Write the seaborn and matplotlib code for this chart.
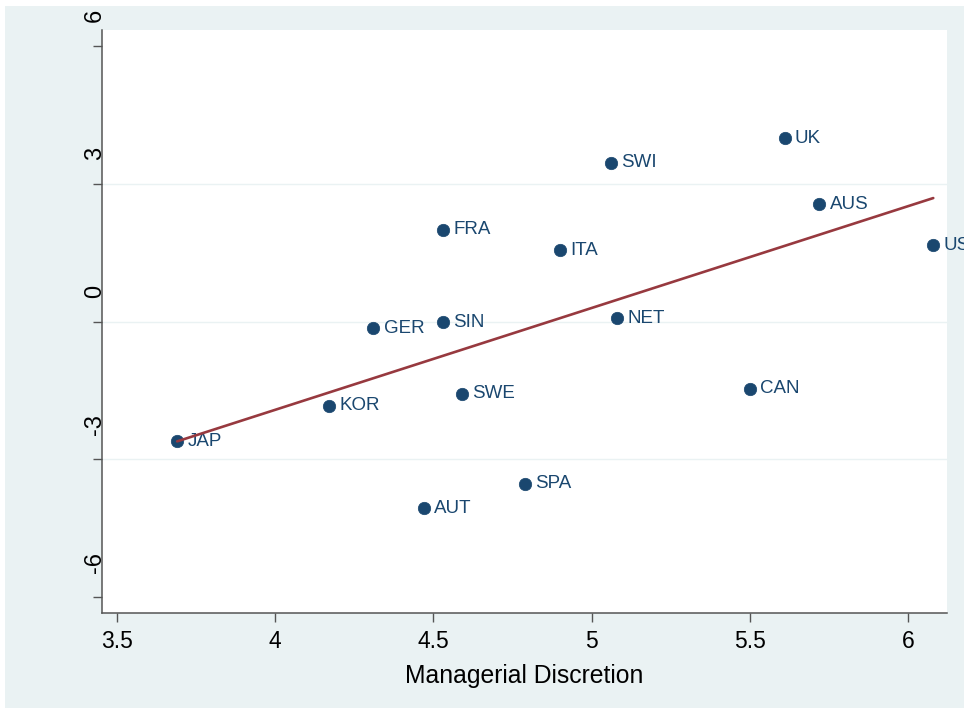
import pandas as pd
import seaborn as sns
import matplotlib.pyplot as plt
import matplotlib.transforms as mtransforms
from matplotlib.patches import Rectangle

PAISES = ['JAP', 'KOR', 'GER', 'SIN', 'FRA', 'SWE', 'AUT', 'SPA',
          'ITA', 'SWI', 'NET', 'CAN', 'UK', 'AUS', 'US']
DISCRICAO = [3.69, 4.17, 4.31, 4.53, 4.53, 4.59, 4.47, 4.79,
             4.90, 5.06, 5.08, 5.50, 5.61, 5.72, 6.08]
RESIDUO = [-2.61, -1.83, -0.15, -0.02, 2.00, -1.57, -4.07, -3.53,
           1.55, 3.46, 0.07, -1.46, 3.99, 2.55, 1.66]
Y_TICKS = [-6, -3, 0, 3, 6]
X_TICKS = [3.5, 4, 4.5, 5, 5.5, 6]

AZUL = '#1A476F'
VINHO = '#97393F'
FUNDO = '#EAF2F3'

sns.set_theme(style='white')
plt.rcParams['font.family'] = ['Liberation Sans', 'DejaVu Sans']

df = pd.DataFrame({'pais': PAISES, 'md': DISCRICAO, 'res': RESIDUO})

fig = plt.figure(figsize=(9.64, 7.08), dpi=100, facecolor='white')
fig.patches.append(Rectangle((5 / 964, 0), 1, 1 - 6 / 708, transform=fig.transFigure,
                             facecolor=FUNDO, edgecolor='none', zorder=-10))
ax = fig.add_axes([102 / 964, 1 - 613 / 708, 845 / 964, 583 / 708])
ax.set_facecolor('white')

sns.scatterplot(data=df, x='md', y='res', ax=ax, color=AZUL, s=80,
                edgecolor=AZUL, linewidth=0.5, zorder=3)
sns.regplot(data=df, x='md', y='res', ax=ax, scatter=False, ci=None,
            line_kws={'color': VINHO, 'linewidth': 1.9, 'zorder': 4})

# rotulos dos paises (o "US" fica cortado na borda, como no original)
for _, r in df.iterrows():
    ax.annotate(r['pais'], (r['md'], r['res']), xytext=(7.5, 0),
                textcoords='offset points', va='center', ha='left',
                fontsize=13.5, color=AZUL, annotation_clip=False)

ax.set_xlim(3.4525, 6.1234)
ax.set_ylim(-6.35, 6.35)
ax.set_xticks(X_TICKS)
ax.set_xticklabels(['3.5', '4', '4.5', '5', '5.5', '6'])
ax.set_yticks(Y_TICKS)
ax.set_yticklabels([str(v) for v in Y_TICKS])

ax.grid(True, axis='y', color=FUNDO, linewidth=1.0)
ax.grid(False, axis='x')
linhas = ax.get_ygridlines()
linhas[0].set_visible(False)
linhas[-1].set_visible(False)

for lado in ['top', 'right']:
    ax.spines[lado].set_visible(False)
for lado in ['left', 'bottom']:
    ax.spines[lado].set_color('#555555')
    ax.spines[lado].set_linewidth(1.1)

ax.tick_params(axis='both', direction='out', length=6.5, width=1.0,
               color='#555555', labelcolor='black')
ax.tick_params(axis='x', labelsize=16.5, pad=6, bottom=True)
ax.tick_params(axis='y', labelsize=17, pad=-9.5, left=True, labelrotation=90)

# rotulos do eixo y deslocados pra cima (estilo Stata)
desloc = mtransforms.ScaledTranslation(0, 24 / 100, fig.dpi_scale_trans)
for lab in ax.get_yticklabels():
    lab.set_verticalalignment('bottom')
    lab.set_horizontalalignment('right')
    lab.set_transform(lab.get_transform() + desloc)

ax.set_xlabel('Managerial Discretion', fontsize=17.8, labelpad=8, color='black')
ax.set_ylabel('')

plt.savefig('out.png', dpi=100, facecolor='white')
plt.close()
